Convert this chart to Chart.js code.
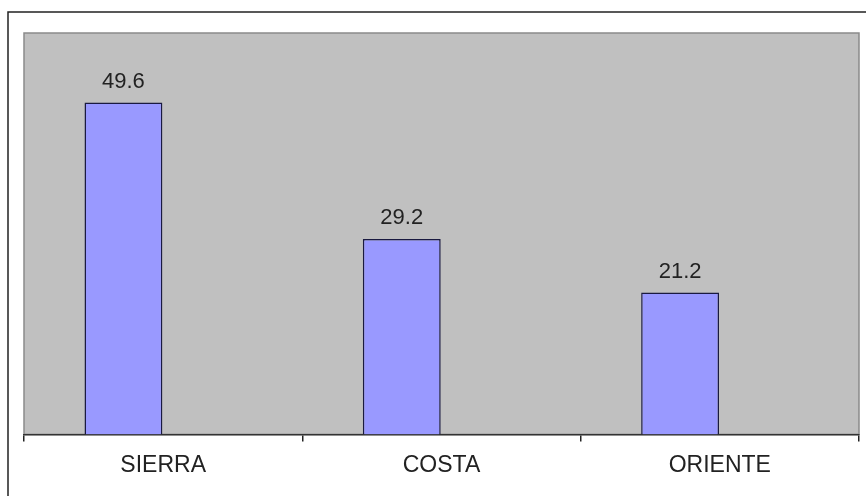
<!DOCTYPE html>
<html>
<head>
<meta charset="utf-8">
<script src="https://cdn.jsdelivr.net/npm/chart.js@4/dist/chart.umd.min.js"></script>
<style>
  html, body { margin: 0; padding: 0; background: #fff; }
  #wrap { width: 866px; height: 496px; position: relative; }
</style>
</head>
<body>
<div id="wrap"><canvas id="bar-chart"></canvas></div>
<script>
// datos
const regiones = ["SIERRA", "COSTA", "ORIENTE"];
const valores = [49.6, 29.2, 21.2];
const serieVacia = [null, null, null];   // segunda serie vacia (como en la hoja original)
const ejeMax = 60;

// fondo gris del area y marco exterior
const fondoPlugin = {
  id: 'fondo',
  beforeDraw(chart) {
    const ctx = chart.ctx, a = chart.chartArea;
    ctx.save();
    ctx.fillStyle = '#c0c0c0';
    ctx.fillRect(a.left, a.top, a.right - a.left, a.bottom - a.top);
    ctx.strokeStyle = '#8a8a8a';
    ctx.lineWidth = 1.5;
    ctx.strokeRect(a.left, a.top, a.right - a.left, a.bottom - a.top);
    // marco exterior
    ctx.strokeStyle = '#222';
    ctx.lineWidth = 1.5;
    ctx.beginPath();
    ctx.moveTo(8, 496);
    ctx.lineTo(8, 12);
    ctx.lineTo(866, 12);
    ctx.stroke();
    ctx.restore();
  }
};

// etiquetas de valor encima de las barras
const etiquetasPlugin = {
  id: 'etiquetas',
  afterDatasetsDraw(chart) {
    const ctx = chart.ctx;
    const meta = chart.getDatasetMeta(0);
    ctx.save();
    ctx.font = '22px "Liberation Sans", Arial, sans-serif';
    ctx.fillStyle = '#222';
    ctx.textAlign = 'center';
    ctx.textBaseline = 'alphabetic';
    meta.data.forEach((bar, i) => {
      ctx.fillText(valores[i].toFixed(1), bar.x, bar.y - 15);
    });
    ctx.restore();
  }
};

new Chart(document.getElementById("bar-chart"), {
  type: 'bar',
  data: {
    labels: regiones,
    datasets: [
      {
        data: valores,
        backgroundColor: '#9999ff',
        borderColor: '#1a1a40',
        borderWidth: 1.5,
        borderSkipped: 'bottom',
        barPercentage: 0.98,
        categoryPercentage: 0.571
      },
      {
        data: serieVacia,
        backgroundColor: '#993366',
        barPercentage: 0.98,
        categoryPercentage: 0.571
      }
    ]
  },
  options: {
    responsive: true,
    maintainAspectRatio: false,
    animation: false,
    layout: { padding: { left: 24, right: 7, top: 33, bottom: 7 } },
    plugins: {
      legend: { display: false },
      tooltip: { enabled: false }
    },
    scales: {
      x: {
        offset: true,
        grid: {
          offset: true,
          drawOnChartArea: false,
          drawTicks: true,
          tickLength: 7,
          color: '#222',
          lineWidth: 1.5
        },
        border: { display: true, color: '#333', width: 1.5 },
        ticks: {
          color: '#222',
          padding: 10,
          font: { family: '"Liberation Sans", Arial, sans-serif', size: 23 }
        }
      },
      y: {
        display: false,
        min: 0,
        max: ejeMax
      }
    }
  },
  plugins: [fondoPlugin, etiquetasPlugin]
});
</script>
</body>
</html>
